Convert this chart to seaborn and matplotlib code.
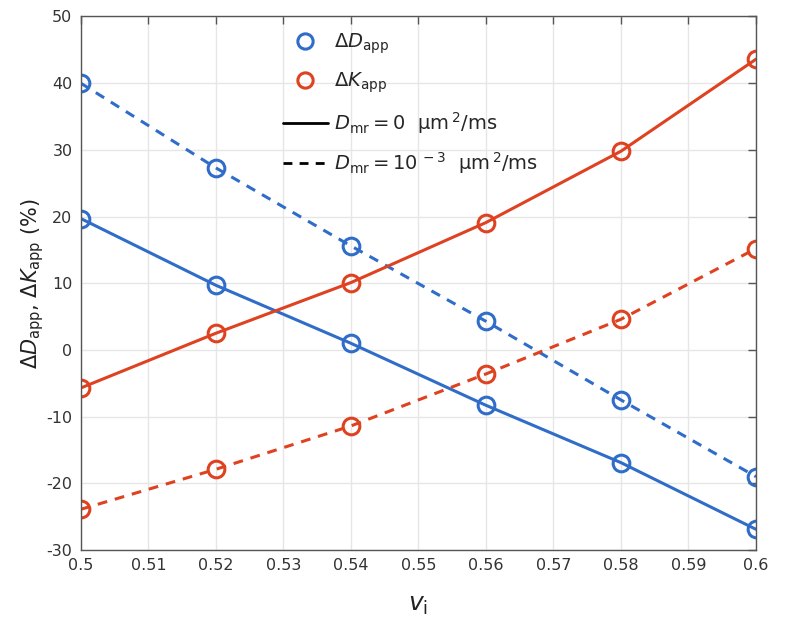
import numpy as np
import pandas as pd
import matplotlib
matplotlib.use("Agg")
import matplotlib.pyplot as plt
from matplotlib.lines import Line2D
import seaborn as sns

# ---- data ----
v_i = [0.50, 0.52, 0.54, 0.56, 0.58, 0.60]
dD_solid = [19.7, 9.7, 1.0, -8.3, -16.9, -26.9]
dD_dashed = [40.0, 27.3, 15.6, 4.3, -7.5, -19.0]
dK_solid = [-5.7, 2.5, 10.1, 19.1, 29.8, 43.6]
dK_dashed = [-23.9, -17.9, -11.4, -3.6, 4.6, 15.2]
x_ticks = [0.5, 0.51, 0.52, 0.53, 0.54, 0.55, 0.56, 0.57, 0.58, 0.59, 0.6]
x_ticklabels = ["0.5", "0.51", "0.52", "0.53", "0.54", "0.55", "0.56", "0.57", "0.58", "0.59", "0.6"]
y_ticks = [-30, -20, -10, 0, 10, 20, 30, 40, 50]

BLUE = "#2F6DC9"
RED = "#DE4220"

sns.set_style("white")
plt.rcParams["font.family"] = ["DejaVu Sans"]
plt.rcParams["mathtext.fontset"] = "dejavusans"
plt.rcParams["axes.unicode_minus"] = False

fig = plt.figure(figsize=(8, 6.42), dpi=100)
ax = fig.add_axes([0.101, 0.1433, 0.844, 0.831])

series = [
    (dD_solid, BLUE, "-"),
    (dD_dashed, BLUE, (0, (3.2, 2.6))),
    (dK_solid, RED, "-"),
    (dK_dashed, RED, (0, (3.2, 2.6))),
]
for vals, col, ls in series:
    df = pd.DataFrame({"v": v_i, "y": vals})
    sns.lineplot(data=df, x="v", y="y", ax=ax, color=col, linewidth=2.2,
                 marker="o", markersize=12, markerfacecolor="none",
                 markeredgecolor=col, markeredgewidth=2.2, linestyle=ls)
    ax.lines[-1].set_linestyle(ls)

ax.set_xlim(0.5, 0.6)
ax.set_ylim(-30, 50)
ax.set_xticks(x_ticks)
ax.set_xticklabels(x_ticklabels)
ax.set_yticks(y_ticks)
ax.grid(True, color="#e6e6e6", linewidth=1.0)
ax.set_axisbelow(True)
for s in ax.spines.values():
    s.set_color("#555555")
    s.set_linewidth(1.0)
ax.tick_params(direction="in", length=6, width=1.0, color="#555555",
               labelcolor="#333333", labelsize=11.5, top=True, right=True,
               pad=6)

ax.set_xlabel(r"$v_{\mathrm{i}}$", fontsize=18, color="#222222", labelpad=14)
ax.set_ylabel(r"$\Delta D_{\mathrm{app}}$, $\Delta K_{\mathrm{app}}$ (%)",
              fontsize=15, color="#222222")
ax.yaxis.set_label_coords(-0.052, 0.5)

handles = [
    Line2D([], [], color=BLUE, marker="o", linestyle="none", markersize=11,
           markerfacecolor="none", markeredgewidth=2.2),
    Line2D([], [], color=RED, marker="o", linestyle="none", markersize=11,
           markerfacecolor="none", markeredgewidth=2.2),
    Line2D([], [], color="black", linestyle="-", linewidth=2.0),
    Line2D([], [], color="black", linestyle=(0, (3.2, 2.6)), linewidth=2.0),
]
labels = [
    r"$\Delta D_{\mathrm{app}}$",
    r"$\Delta K_{\mathrm{app}}$",
    r"$D_{\mathrm{mr}} = 0\ \ \mathrm{\mu m}^{\,2}$/ms",
    r"$D_{\mathrm{mr}} = 10^{\,-3}\ \ \mathrm{\mu m}^{\,2}$/ms",
]
leg = ax.legend(handles, labels, loc="upper left",
                bbox_to_anchor=(275 / 800, 1 - 24 / 642),
                bbox_transform=fig.transFigure, frameon=False,
                fontsize=14, handlelength=2.3, handletextpad=0.35,
                labelspacing=0.75, borderaxespad=0)

fig.savefig("out.png", dpi=100)
